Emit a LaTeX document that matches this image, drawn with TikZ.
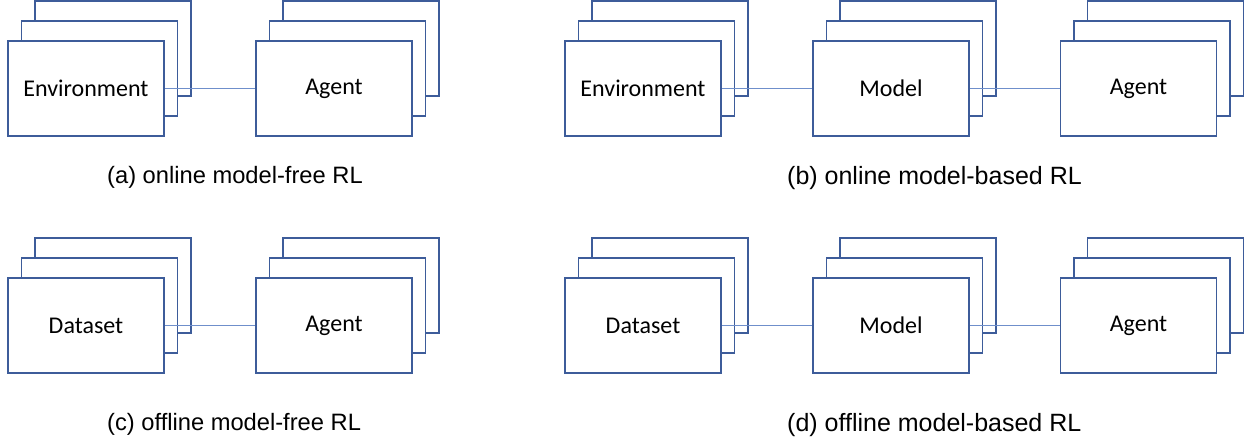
\documentclass[tikz,border=0pt]{standalone}
\usepackage{fontspec}
\setmainfont{Carlito}
\newfontfamily\capfont{Liberation Sans}
\definecolor{boxblue}{HTML}{3D5C9A}
\definecolor{linkblue}{HTML}{6F8FCB}
\tikzset{
  card/.style={draw=boxblue, line width=1.5pt, fill=white, minimum width=156pt, minimum height=95pt, inner sep=0pt, font=\fontsize{24}{26}\selectfont},
  link/.style={draw=linkblue, line width=0.8pt},
  caption/.style={anchor=base west, inner sep=0pt, font=\capfont\fontsize{23.7}{26}\selectfont},
  widecaption/.style={caption, font=\capfont\fontsize{25}{27}\selectfont}
}
\newcommand{\cardstack}[4]{%
  \node[card] (#1-b) at (#2+27,#3-40) {};
  \node[card] (#1-m) at (#2+13.5,#3-20) {};
  \node[card] (#1) at (#2,#3) {#4};
}
\begin{document}
\begin{tikzpicture}[x=1pt,y=-1pt]
\useasboundingbox (0,0) rectangle (1248,443);
% (a)
\cardstack{aenv}{86}{88.5}{Environment}
\cardstack{aagent}{334}{88.5}{Agent}
\draw[link] (aenv.east) -- (aagent.west);
\node[caption] (capa) at (107,184) {(a) online model-free RL};
% (b)
\cardstack{benv}{643}{88.5}{Environment}
\cardstack{bmodel}{891}{88.5}{Model}
\cardstack{bagent}{1138.5}{88.5}{Agent}
\draw[link] (benv.east) -- (bmodel.west);
\draw[link] (bmodel.east) -- (bagent.west);
\node[widecaption] (capb) at (787,184.5) {(b) online model-based RL};
% (c)
\cardstack{cdata}{86}{325.5}{Dataset}
\cardstack{cagent}{334}{325.5}{Agent}
\draw[link] (cdata.east) -- (cagent.west);
\node[caption] (capc) at (107,431) {(c) offline model-free RL};
% (d)
\cardstack{ddata}{643}{325.5}{Dataset}
\cardstack{dmodel}{891}{325.5}{Model}
\cardstack{dagent}{1138.5}{325.5}{Agent}
\draw[link] (ddata.east) -- (dmodel.west);
\draw[link] (dmodel.east) -- (dagent.west);
\node[widecaption] (capd) at (787,431.5) {(d) offline model-based RL};
\end{tikzpicture}
\end{document}
